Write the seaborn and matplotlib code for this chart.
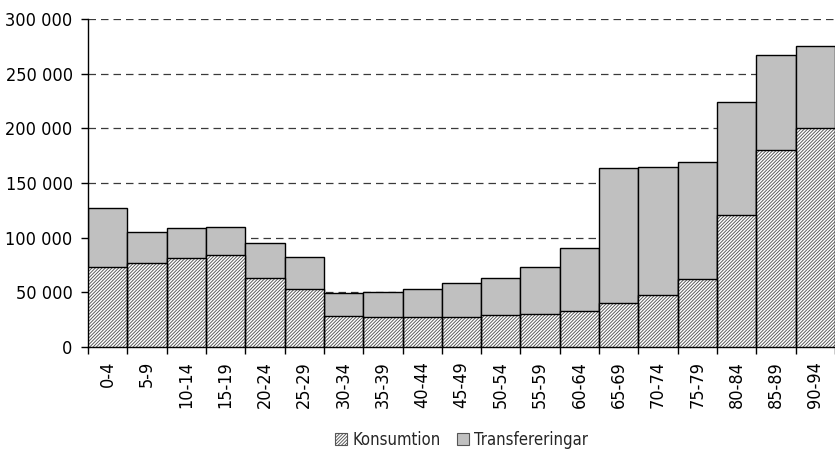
import matplotlib
matplotlib.use("Agg")
import matplotlib.pyplot as plt
import seaborn as sns
import pandas as pd
from matplotlib.patches import Patch
from matplotlib.ticker import FuncFormatter, MultipleLocator

# Age groups and per-capita values (SEK)
age_groups = ["0-4", "5-9", "10-14", "15-19", "20-24", "25-29", "30-34",
              "35-39", "40-44", "45-49", "50-54", "55-59", "60-64",
              "65-69", "70-74", "75-79", "80-84", "85-89", "90-94"]
konsumtion = [73500, 77000, 81500, 84000, 63000, 53500, 28500,
              27000, 27000, 27500, 29000, 30500, 33000,
              40000, 47500, 62000, 120500, 180000, 200500]
transfereringar = [53500, 28500, 27000, 25500, 32500, 28500, 20500,
                   23000, 26000, 31000, 34500, 42500, 58000,
                   124000, 117500, 107000, 104000, 87000, 75000]

df = pd.DataFrame({"age": age_groups, "kons": konsumtion, "transf": transfereringar})
df["total"] = df["kons"] + df["transf"]

sns.set_theme(style="white")
plt.rcParams["font.family"] = ["Liberation Sans Narrow", "DejaVu Sans"]
plt.rcParams["font.stretch"] = "condensed"
plt.rcParams["hatch.linewidth"] = 0.65

HATCH = "//////////"
HATCH_GREY = "#555555"

fig = plt.figure(figsize=(8.35, 4.63), dpi=100)
ax = fig.add_axes([88 / 835, 1 - 347 / 463, 1 - 88 / 835, 328 / 463])

# total bar (grey) first, consumption bar drawn over it, then black outlines
sns.barplot(data=df, x="age", y="total", color="#c0c0c0", saturation=1,
            width=1.0, edgecolor="black", linewidth=1, ax=ax, zorder=2)
sns.barplot(data=df, x="age", y="kons", color="white", saturation=1,
            width=1.0, edgecolor=HATCH_GREY, linewidth=0, hatch=HATCH, ax=ax, zorder=3)
sns.barplot(data=df, x="age", y="kons", color="black", fill=False,
            width=1.0, linewidth=1, ax=ax, zorder=4)

ax.set_xlim(-0.5, len(age_groups) - 0.5)
ax.set_ylim(0, 300000)
ax.yaxis.set_major_locator(MultipleLocator(50000))
ax.yaxis.set_major_formatter(FuncFormatter(lambda v, p: f"{v:,.0f}".replace(",", " ")))
ax.set_xlabel("")
ax.set_ylabel("")

ax.yaxis.grid(True, color="#3a3a3a", linestyle=(0, (6, 4)), linewidth=0.9)
ax.set_axisbelow(True)

for s in ["top", "right"]:
    ax.spines[s].set_visible(False)
for s in ["left", "bottom"]:
    ax.spines[s].set_color("black")
    ax.spines[s].set_linewidth(1)

ax.tick_params(axis="y", which="major", left=True, length=5, width=1, color="black",
               labelsize=13, pad=6, labelcolor="black")
ax.set_xticks(range(len(age_groups)))
ax.set_xticklabels(age_groups, rotation=90, fontsize=13)
ax.tick_params(axis="x", which="major", length=0, pad=10, labelcolor="black")
ax.set_xticks([i - 0.5 for i in range(len(age_groups) + 1)], minor=True)
ax.tick_params(axis="x", which="minor", bottom=True, length=5, width=1, color="black")

handles = [Patch(facecolor="white", edgecolor=HATCH_GREY, hatch=HATCH, linewidth=0.8,
                 label="Konsumtion"),
           Patch(facecolor="#c0c0c0", edgecolor="#555555", linewidth=0.8,
                 label="Transfereringar")]
ax.legend(handles=handles, loc="center", bbox_to_anchor=(0.5, -0.284), ncol=2,
          frameon=False, fontsize=12, handlelength=0.7, handleheight=0.7,
          handletextpad=0.3, columnspacing=1.0)

fig.savefig("out.png", dpi=100)
